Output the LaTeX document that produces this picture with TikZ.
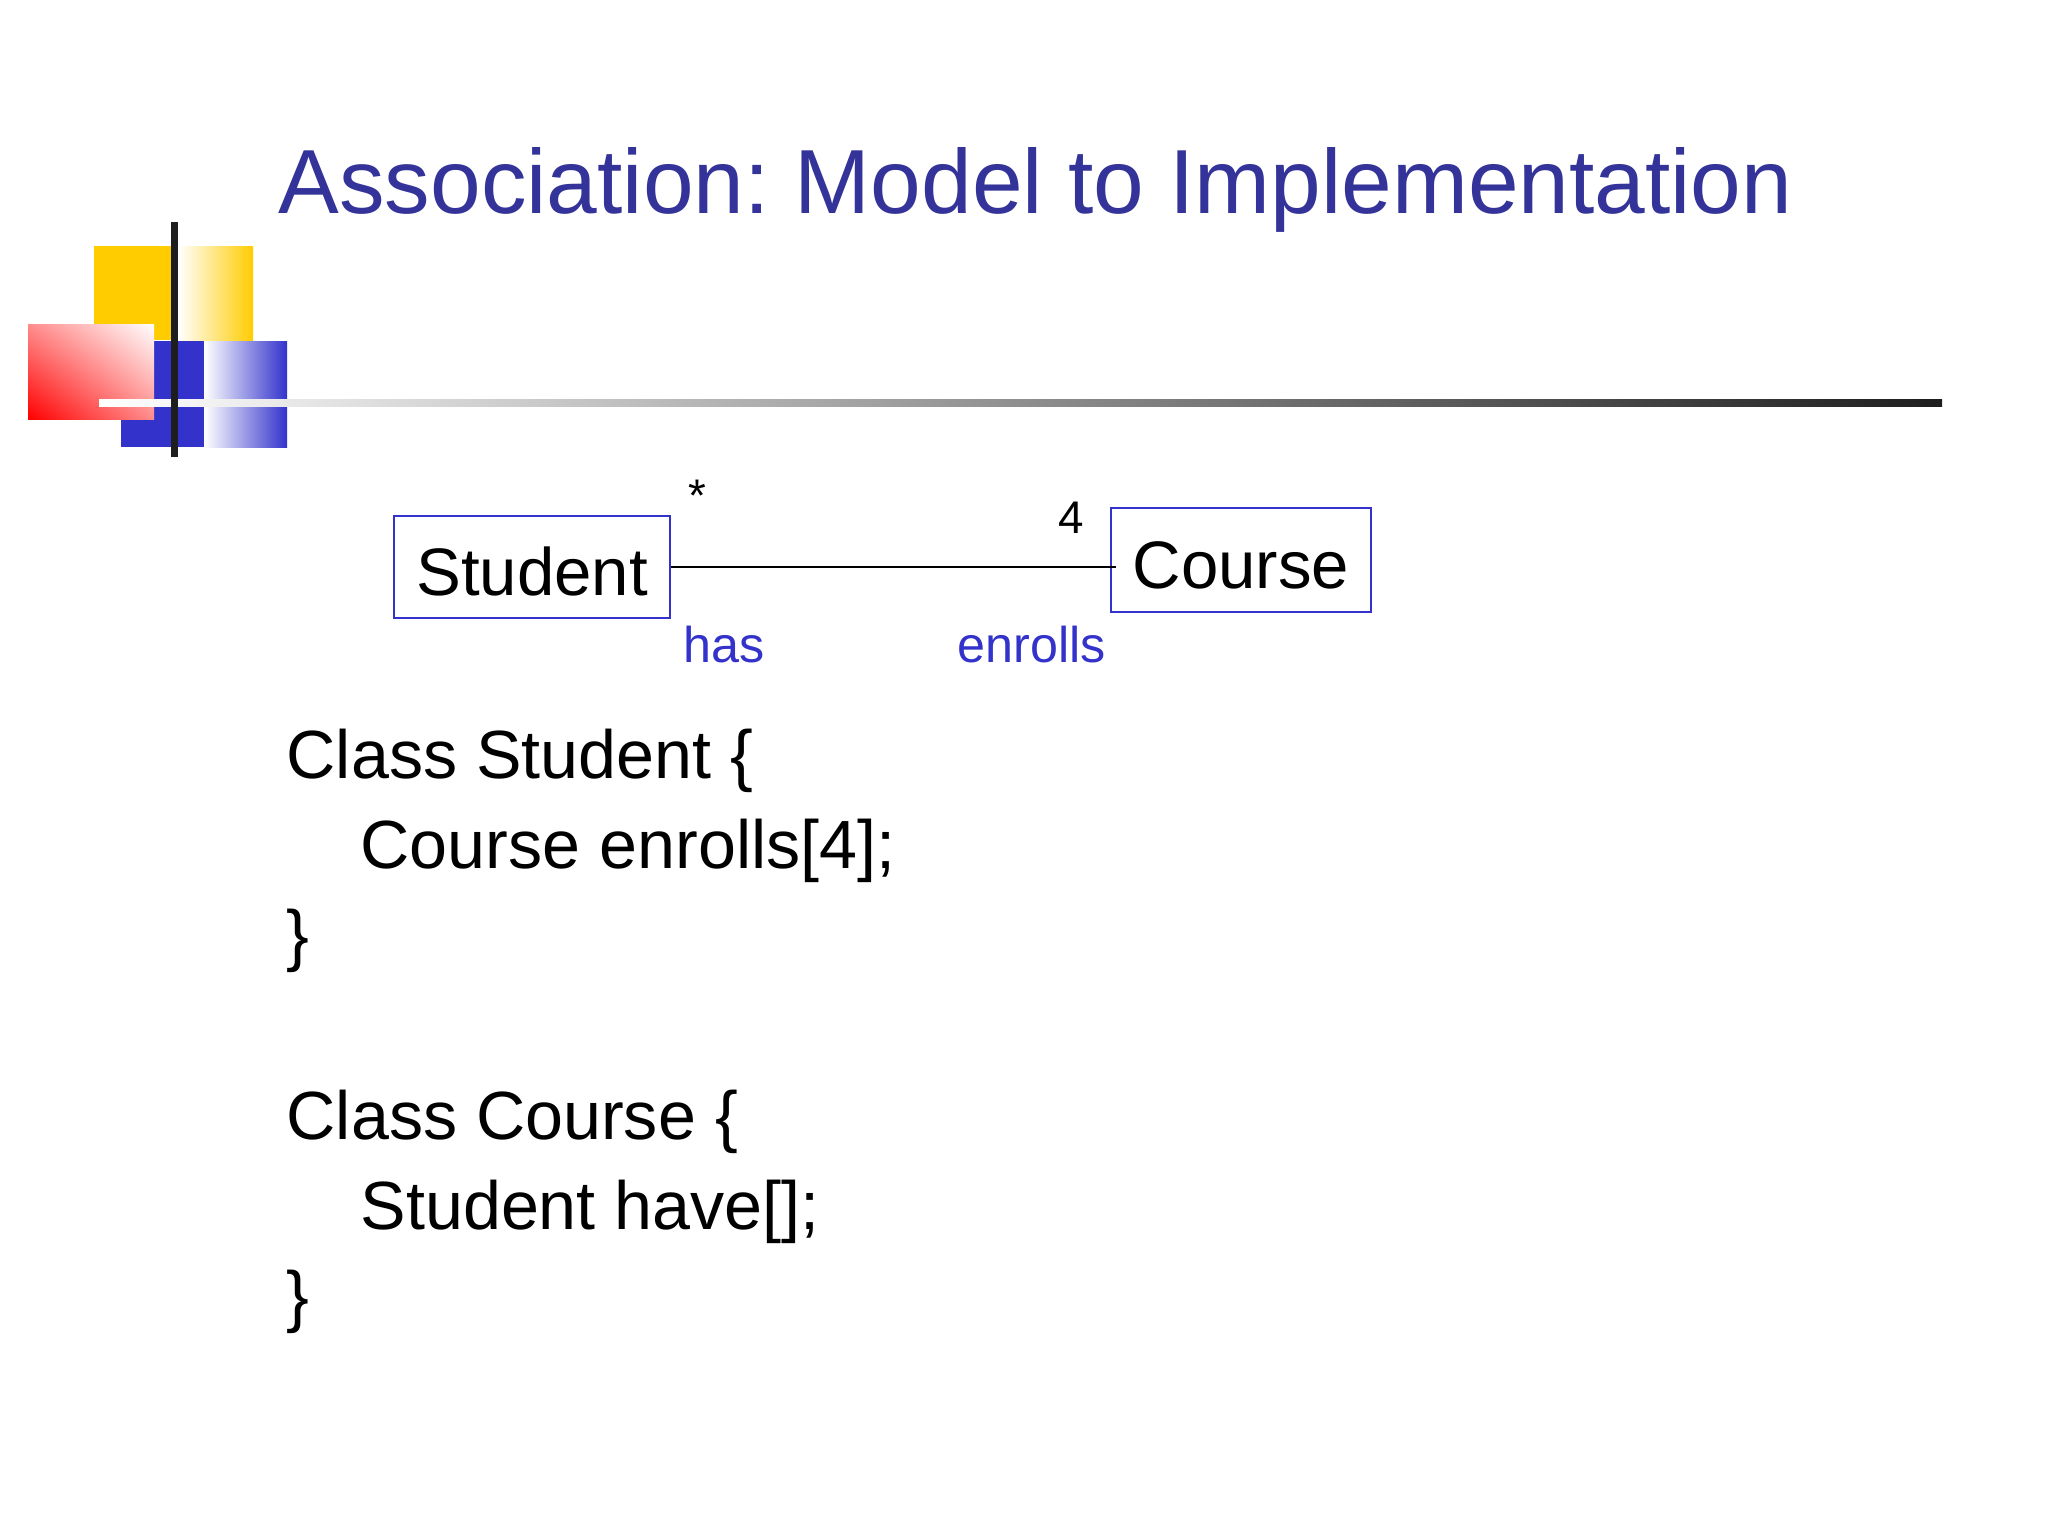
\documentclass[tikz,border=0pt]{standalone}
\usepackage{fontspec}
\setmainfont{Liberation Sans}
\usetikzlibrary{positioning,shadings}
\frenchspacing

\definecolor{titleblue}{RGB}{51,51,153}
\definecolor{umlblue}{RGB}{51,51,204}
\definecolor{logoyellow}{RGB}{255,204,0}
\definecolor{barblack}{RGB}{30,30,30}

\tikzset{
  classbox/.style={draw=umlblue, line width=0.6pt, inner sep=0pt,
    font=\fontsize{19.1}{19}\selectfont, text height=0.56cm, text depth=0pt},
  rolelabel/.style={text=umlblue, font=\fontsize{14.3}{15}\selectfont,
    anchor=base west, inner sep=0pt},
  multlabel/.style={font=\fontsize{13}{14}\selectfont, anchor=base, inner sep=0pt},
  codeline/.style={font=\fontsize{19.4}{20}\selectfont, anchor=base west, inner sep=0pt}
}

\begin{document}
\begin{tikzpicture}[x=0.01cm, y=-0.01cm]
    \useasboundingbox (0,0) rectangle (2048,1536);
    % logo blocks
    \fill[logoyellow] (94,246) rectangle (178,340);
    \shade[left color=white, right color=logoyellow] (178,246) rectangle (253,340);
    \fill[umlblue] (121,341) rectangle (204,447);
    \shade[left color=white, right color=umlblue] (204,341) rectangle (287,447);
    \shade[lower left=red, upper right=white, upper left=red!45!white, lower right=red!45!white] (28,324) rectangle (154,419);
    \shade[left color=white, right color=barblack] (99,399) rectangle (1942,406);
    \fill[barblack] (171,222) rectangle (178,457);
    % title
    \node[anchor=base west, inner sep=0pt, text=titleblue, font=\fontsize{25.9}{26}\selectfont] (title) at (278,213) {Association: Model to Implementation};
    % class diagram
    \node[classbox, minimum width=2.76cm, minimum height=1.02cm] (student) at (532,567) {Student};
    \node[classbox, minimum width=2.6cm, minimum height=1.04cm] (course) at (1241,560) {Course};
    \draw[line width=0.5pt] (student.east) -- ([xshift=0.06cm]student.east -| course.west);
    \node[multlabel] (many) at (697,511) {*};
    \node[multlabel] (four) at (1071,533) {4};
    \node[rolelabel] (has) at (683,662) {has};
    \node[rolelabel] (enrolls) at (957,662) {enrolls};
    % code
    \node[codeline] (code1) at (286,778) {Class Student \{};
    \node[codeline] (code2) at (360,868) {Course enrolls[4];};
    \node[codeline] (code3) at (286,958) {\}};
    \node[codeline] (code4) at (286,1139) {Class Course \{};
    \node[codeline] (code5) at (360,1229) {Student have[];};
    \node[codeline] (code6) at (286,1319) {\}};
\end{tikzpicture}
\end{document}
